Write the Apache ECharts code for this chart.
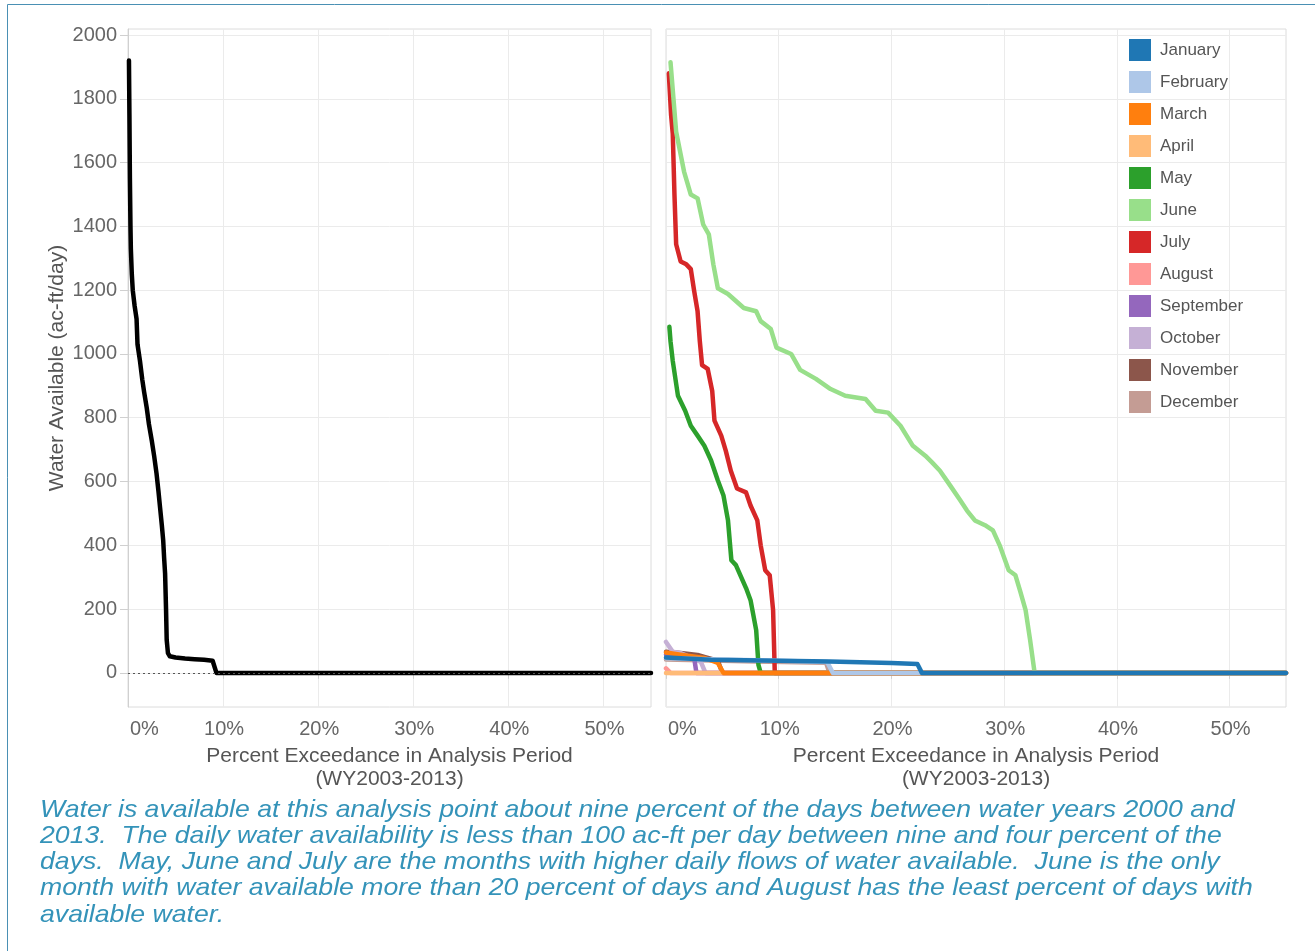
<!DOCTYPE html>
<html>
<head>
<meta charset="utf-8">
<script src="https://cdn.jsdelivr.net/npm/echarts@6/dist/echarts.min.js"></script>
<style>
  html, body { margin: 0; padding: 0; background: #fff; }
  #chart { width: 1315px; height: 951px; }
</style>
</head>
<body>
<div id="chart"></div>
<script>
// Axis ticks
const pctTicks = [0, 10, 20, 30, 40, 50];
const flowTicks = [0, 200, 400, 600, 800, 1000, 1200, 1400, 1600, 1800, 2000];

// Duration curve for all days combined: [percent exceedance, ac-ft/day]
const allDays = [[0.1,1920],[0.15,1750],[0.2,1550],[0.26,1400],[0.3,1330],[0.4,1250],[0.5,1200],[0.7,1150],[0.9,1110],[1.0,1030],[1.26,978],[1.5,920],[1.7,880],[1.97,831],[2.2,780],[2.5,728],[2.75,680],[3.0,625],[3.2,570],[3.37,519],[3.55,465],[3.7,416],[3.8,360],[3.9,312],[4.0,200],[4.07,103],[4.2,62],[4.4,52],[5,48],[6,45],[7,43],[8,41],[8.9,38],[9.1,34],[9.3,0],[55,0]];

// Duration curves by month
const monthNames = ['January','February','March','April','May','June','July','August','September','October','November','December'];
const monthColors = ['#1f77b4','#aec7e8','#ff7f0e','#ffbb78','#2ca02c','#98df8a','#d62728','#ff9896','#9467bd','#c5b0d5','#8c564b','#c49c94'];

const january = [[0,48],[4,41],[10,38],[14.5,36],[20,31],[22.3,28],[22.7,0],[55,0]];
const february = [[0,46],[5,42],[10,38],[14.3,34],[14.8,0],[55,0]];
const march = [[0,64],[1.3,57],[3.4,47],[4.6,31],[5.1,0],[55,0]];
const april = [[0,0],[55,0]];
const may = [[0.3,1085],[0.4,1040],[0.6,978],[1.06,869],[1.7,822],[2.2,775],[2.8,744],[3.4,712],[4.0,666],[4.6,603],[5.1,556],[5.5,478],[5.8,353],[6.2,338],[6.6,306],[7.1,266],[7.5,228],[8.0,134],[8.2,25],[8.4,0],[55,0]];
const june = [[0.4,1915],[0.9,1697],[1.6,1572],[2.2,1500],[2.8,1488],[3.3,1406],[3.8,1375],[4.2,1281],[4.6,1206],[5.5,1188],[6.9,1144],[8.0,1134],[8.4,1103],[9.3,1078],[9.8,1020],[11.1,1000],[11.9,950],[13.3,922],[14.6,890],[15.9,869],[17.7,859],[18.6,822],[19.7,816],[20.8,775],[21.9,712],[23,681],[23.6,660],[24.3,634],[25.2,588],[26.1,541],[26.7,509],[27.4,478],[28.3,463],[29,447],[29.6,400],[30.4,322],[31,306],[31.4,259],[31.9,197],[32.3,103],[32.7,0],[55,0]];
const july = [[0.25,1880],[0.45,1750],[0.6,1690],[0.75,1500],[0.9,1344],[1.3,1290],[1.8,1281],[2.2,1266],[2.5,1197],[2.8,1134],[3.0,1040],[3.2,965],[3.7,953],[4.1,884],[4.3,791],[4.9,744],[5.3,697],[5.75,634],[6.3,578],[7.1,566],[7.5,525],[8.1,478],[8.4,400],[8.8,322],[9.2,306],[9.5,197],[9.65,0],[55,0]];
const august = [[0,14],[0.4,0],[55,0]];
const september = [[0,58],[1.5,52],[2.5,46],[2.7,0],[55,0]];
const october = [[0,97],[0.6,66],[1.3,62],[3.1,34],[3.4,9],[3.5,0],[55,0]];
const november = [[0,66],[1.3,62],[2.8,56],[3.4,50],[4.6,38],[5.0,0],[55,0]];
const december = [[0,42],[8,36],[14.2,32],[14.5,0],[55,0]];
const monthData = [january, february, march, april, may, june, july, august, september, october, november, december];

const axisTitle = 'Percent Exceedance in Analysis Period\n(WY2003-2013)';
const yTitle = 'Water Available (ac-ft/day)';
const caption = 'Water is available at this analysis point about nine percent of the days between water years 2000 and\n' +
  '2013.  The daily water availability is less than 100 ac-ft per day between nine and four percent of the\n' +
  'days.  May, June and July are the months with higher daily flows of water available.  June is the only\n' +
  'month with water available more than 20 percent of days and August has the least percent of days with\n' +
  'available water.';

const FONT = '"Liberation Sans", Arial, sans-serif';
const Y_MIN = -107, Y_MAX = 2019;

function xAxisFor(gridIndex) {
  return {
    type: 'value', gridIndex, min: 0, max: 55,
    name: axisTitle, nameLocation: 'middle', nameGap: 38,
    nameTextStyle: { fontFamily: FONT, fontSize: 21, color: '#555', lineHeight: 23 },
    axisLine: { show: false },
    axisTick: { show: true, customValues: pctTicks, length: 6, lineStyle: { color: '#d0d0d0' } },
    axisLabel: { customValues: pctTicks, formatter: '{value}%', margin: 12, alignMinLabel: 'left',
      padding: [0, 0, 0, 2], fontFamily: FONT, fontSize: 20, color: '#666' },
    splitLine: { show: true, lineStyle: { color: '#ebebeb', width: 1 } }
  };
}

const option = {
  animation: false,
  backgroundColor: '#fff',
  grid: [
    { left: 128, top: 29, width: 523, height: 678, show: true, borderColor: '#dcdcdc', borderWidth: 1, backgroundColor: 'transparent' },
    { left: 666, top: 29, width: 620, height: 678, show: true, borderColor: '#dcdcdc', borderWidth: 1, backgroundColor: 'transparent' }
  ],
  xAxis: [xAxisFor(0), xAxisFor(1)],
  yAxis: [
    {
      type: 'value', gridIndex: 0, min: Y_MIN, max: Y_MAX,
      name: yTitle, nameLocation: 'middle', nameGap: 60, nameRotate: 90,
      nameTextStyle: { fontFamily: FONT, fontSize: 21, color: '#555' },
      axisLine: { show: true, lineStyle: { color: '#d0d0d0' } },
      axisTick: { show: true, customValues: flowTicks, length: 8, lineStyle: { color: '#d0d0d0' } },
      axisLabel: { customValues: flowTicks, formatter: v => String(v), margin: 11,
        fontFamily: FONT, fontSize: 20, color: '#666' },
      splitLine: { show: true, lineStyle: { color: '#ebebeb', width: 1 } }
    },
    {
      type: 'value', gridIndex: 1, min: Y_MIN, max: Y_MAX,
      axisLine: { show: false },
      axisTick: { show: false, customValues: flowTicks },
      axisLabel: { show: false, customValues: flowTicks },
      splitLine: { show: true, lineStyle: { color: '#ebebeb', width: 1 } }
    }
  ],
  legend: {
    orient: 'vertical', left: 1129, top: 39, padding: 0,
    itemWidth: 22, itemHeight: 22, itemGap: 10, icon: 'rect',
    selectedMode: false,
    data: monthNames,
    textStyle: { fontFamily: FONT, fontSize: 17, color: '#555', padding: [0, 0, 0, 4] }
  },
  series: [],
  graphic: [
    { type: 'line', silent: true, shape: { x1: 7.5, y1: 4.5, x2: 1315, y2: 4.5 }, style: { stroke: '#4a90b4', lineWidth: 1 } },
    { type: 'line', silent: true, shape: { x1: 7.5, y1: 4.5, x2: 7.5, y2: 951 }, style: { stroke: '#4a90b4', lineWidth: 1 } },
    { type: 'text', silent: true, x: 40, y: 797, scaleX: 1.11, scaleY: 1,
      style: { text: caption, x: 0, y: 0, verticalAlign: 'top', fill: '#3493b9',
        fontFamily: FONT, fontStyle: 'italic', fontSize: 24, lineHeight: 26.2 } }
  ]
};

// Combined curve with the dotted zero reference line
option.series.push({
  name: 'All days', type: 'line', xAxisIndex: 0, yAxisIndex: 0,
  data: allDays, showSymbol: false, symbol: 'none',
  lineStyle: { color: '#000', width: 4.5, cap: 'round', join: 'round' },
  markLine: {
    silent: true, symbol: 'none', label: { show: false },
    lineStyle: { color: '#555', width: 1, type: [2, 3] },
    data: [{ yAxis: 0 }]
  }
});

// Monthly curves, January drawn last so it sits on top
for (let i = monthNames.length - 1; i >= 0; i--) {
  option.series.push({
    name: monthNames[i], type: 'line', xAxisIndex: 1, yAxisIndex: 1,
    data: monthData[i], showSymbol: false, symbol: 'none',
    itemStyle: { color: monthColors[i] },
    lineStyle: { color: monthColors[i], width: 4.5, cap: 'round', join: 'round' }
  });
}

const chart = echarts.init(document.getElementById('chart'), null, { renderer: 'canvas' });
chart.setOption(option);
</script>
</body>
</html>
